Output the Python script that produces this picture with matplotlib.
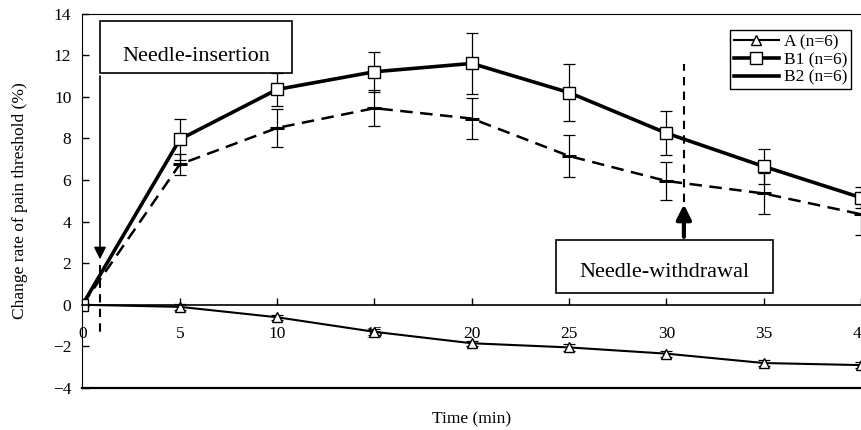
import numpy as np
import matplotlib
matplotlib.use('Agg')
import matplotlib.pyplot as plt
from matplotlib.lines import Line2D
from matplotlib.patches import Rectangle

plt.rcParams['font.family'] = ['Liberation Serif', 'DejaVu Serif']

# data
time = [0, 5, 10, 15, 20, 25, 30, 35, 40]
a_mean = [0, -0.1, -0.6, -1.3, -1.85, -2.05, -2.35, -2.8, -2.9]
a_err = [0, 0.15, 0.12, 0.15, 0.12, 0.15, 0.15, 0.15, 0.15]
b1_mean = [0, 7.95, 10.35, 11.2, 11.6, 10.2, 8.25, 6.65, 5.15]
b1_err = [0, 1.0, 0.8, 0.95, 1.45, 1.35, 1.05, 0.85, 0.5]
b2_mean = [0, 6.75, 8.5, 9.45, 8.95, 7.15, 5.95, 5.35, 4.35]
b2_err = [0, 0.5, 0.9, 0.85, 1.0, 1.02, 0.9, 1.0, 1.0]
labels = ['A (n=6)', 'B1 (n=6)', 'B2 (n=6)']
xticks = list(range(0, 41, 5))
yticks = list(range(-4, 15, 2))

fig = plt.figure(figsize=(8.61, 4.3), dpi=100)
ax = fig.add_axes([0.0958, 0.0977, 0.9042, 0.8709])

err_kw = dict(fmt='none', ecolor='black', elinewidth=0.9, capsize=4, capthick=0.9)

# series: error bars first, then lines with markers on top
ax.errorbar(time, a_mean, yerr=a_err, **err_kw)
ax.errorbar(time, b2_mean, yerr=b2_err, **err_kw)
ax.errorbar(time, b1_mean, yerr=b1_err, **err_kw)
ax.plot(time, a_mean, color='black', lw=1.5, marker='^', ms=7, mfc='white', mec='black', mew=1.0)
ax.plot(time, b2_mean, color='black', lw=1.8, ls=(0, (5, 3)), marker='_', ms=10, mew=2.2)
ax.plot(time, b1_mean, color='black', lw=2.6, marker='s', ms=8, mfc='white', mec='black', mew=1.0)

ax.set_xlim(0, 40)
ax.set_ylim(-4, 14)
ax.set_xticks(xticks)
ax.set_yticks(yticks)
ax.set_yticklabels([str(v).replace('-', '\u2212') for v in yticks])

# x axis through zero, box frame around
ax.spines['bottom'].set_position(('data', 0))
ax.spines['bottom'].set_linewidth(1.2)
ax.spines['right'].set_visible(False)
ax.axhline(-4, color='black', lw=1.6, clip_on=False)
ax.tick_params(axis='both', direction='in', labelsize=12.5, width=1, length=5)
ax.tick_params(axis='x', pad=15)
ax.tick_params(axis='y', pad=8)

ax.set_xlabel('Time (min)', fontsize=12.5)
ax.xaxis.set_label_coords(0.5, -0.062)
ax.set_ylabel('Change rate of pain threshold (%)', fontsize=12.5, labelpad=18)

# needle insertion
ax.add_patch(Rectangle((0.9, 11.13), 9.87, 2.51, fill=False, ec='black', lw=1.2, clip_on=False))
ax.text(5.85, 11.95, 'Needle-insertion', fontsize=16, ha='center', va='center')
ax.annotate('', xy=(0.9, 2.05), xytext=(0.9, 11.13),
            arrowprops=dict(arrowstyle='-|>', color='black', lw=1.2, mutation_scale=18))
ax.plot([0.9, 0.9], [1.9, -1.35], color='black', lw=1.5, ls=(0, (4, 3)), clip_on=False)

# needle withdrawal
ax.add_patch(Rectangle((24.33, 0.58), 11.16, 2.55, fill=False, ec='black', lw=1.2))
ax.text(29.91, 1.55, 'Needle-withdrawal', fontsize=16, ha='center', va='center')
ax.annotate('', xy=(30.9, 4.96), xytext=(30.9, 3.13),
            arrowprops=dict(arrowstyle='-|>', color='black', lw=3, mutation_scale=22))
ax.plot([30.9, 30.9], [4.96, 11.57], color='black', lw=1.5, ls=(0, (4, 3)))

handles = [
    Line2D([], [], color='black', lw=1.5, marker='^', ms=7, mfc='white', mec='black'),
    Line2D([], [], color='black', lw=2.6, marker='s', ms=8, mfc='white', mec='black'),
    Line2D([], [], color='black', lw=2.6),
]
leg = ax.legend(handles, labels, loc='upper right', bbox_to_anchor=(0.998, 0.978),
                fontsize=12.5, frameon=True, fancybox=False, framealpha=1, edgecolor='black',
                handlelength=2.6, handletextpad=0.3, borderpad=0.2, labelspacing=0.1)
leg.get_frame().set_linewidth(1.0)

fig.savefig('out.png', dpi=100)
